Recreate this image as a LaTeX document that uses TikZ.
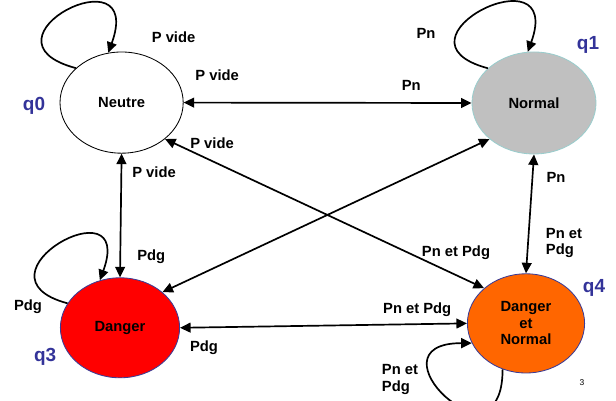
\documentclass[tikz,border=0pt]{standalone}
\usepackage{fontspec}
\setmainfont{Liberation Sans}
\usepackage{xcolor}
\definecolor{qblue}{RGB}{51,51,153}
\definecolor{stgray}{RGB}{192,192,192}
\definecolor{stred}{RGB}{255,0,0}
\definecolor{storange}{RGB}{255,102,0}
\definecolor{stnavy}{RGB}{60,60,150}
\usetikzlibrary{arrows.meta,positioning,shapes.geometric,calc}

\begin{document}
\begin{tikzpicture}[
  etatnode/.style={
    ellipse, inner sep=0pt,
    draw=black, line width=0.6pt,
    font=\fontsize{10.5}{11.7}\selectfont\bfseries,
    align=center,
    text=black
  },
  lbl/.style={font=\fontsize{10.5}{12}\selectfont\bfseries, inner sep=0pt, align=left},
  qlbl/.style={font=\fontsize{13.5}{15}\selectfont\bfseries, text=qblue, inner sep=0pt},
  conn/.style={{Triangle[length=7.5pt,width=7pt]}-{Triangle[length=7.5pt,width=7pt]}, line width=1.2pt},
  loopconn/.style={-{Triangle[length=7.5pt,width=7pt]}, line width=1.2pt}
]
\useasboundingbox (0,0) rectangle (15.4,10.025);

\node[etatnode, fill=white, minimum width=3.08cm, minimum height=2.53cm] (q0) at (3.04,7.46) {Neutre};
\node[etatnode, fill=stgray, draw=stgray!80!cyan, minimum width=3.1cm, minimum height=2.55cm] (q1) at (13.35,7.45) {Normal};
\node[etatnode, fill=stred, draw=stnavy, minimum width=2.98cm, minimum height=2.5cm] (q3) at (3.0,1.83) {Danger};
\node[etatnode, fill=storange, draw=stnavy, minimum width=2.93cm, minimum height=2.48cm] (q4) at (13.15,1.94) {Danger\\et\\Normal};

\node[qlbl] (n0) at (0.85,7.38) {q0};
\node[qlbl] (n1) at (14.7,8.9) {q1};
\node[qlbl] (n3) at (1.13,1.1) {q3};
\node[qlbl] (n4) at (14.85,2.83) {q4};

% transitions
\draw[conn] (q0.east) -- (q1.west);
\draw[conn] (q0.south) -- (q3.north);
\draw[conn] (q1.south) -- (q4.north);
\draw[conn] (q3.east) -- (q4.west);
\draw[conn] (q0.-40) -- (q4.140);
\draw[conn] (q1.-141) -- (q3.40);

% boucles
\draw[loopconn] (q0.143) to[out=165, in=70, distance=2.75cm] (q0.105);
\draw[loopconn] (q1.143) to[out=165, in=70, distance=2.75cm] (q1.97);
\draw[loopconn] (q3.155) to[out=165, in=70, distance=2.65cm] (q3.113);
\draw[loopconn] (q4.-117) to[out=-90, in=180, distance=2.7cm] (q4.200);

\node[lbl] (l1) at (4.34,9.10) {P vide};
\node[lbl] (l2) at (5.43,8.15) {P vide};
\node[lbl] (l3) at (5.30,6.45) {P vide};
\node[lbl] (l4) at (3.85,5.73) {P vide};
\node[lbl] (l5) at (10.65,9.2) {Pn};
\node[lbl] (l6) at (10.28,7.9) {Pn};
\node[lbl] (l7) at (13.9,5.6) {Pn};
\node[lbl] (l8) at (3.78,3.6) {Pdg};
\node[lbl] (l9) at (0.7,2.35) {Pdg};
\node[lbl] (l10) at (5.1,1.33) {Pdg};
\node[lbl] (l11) at (14.1,3.95) {Pn et\\Pdg};
\node[lbl] (l12) at (11.4,3.7) {Pn et Pdg};
\node[lbl] (l13) at (10.43,2.28) {Pn et Pdg};
\node[lbl] (l14) at (10.0,0.53) {Pn et\\Pdg};
\node[font=\fontsize{6}{7}\selectfont] (pg) at (14.55,0.45) {3};
\end{tikzpicture}
\end{document}
